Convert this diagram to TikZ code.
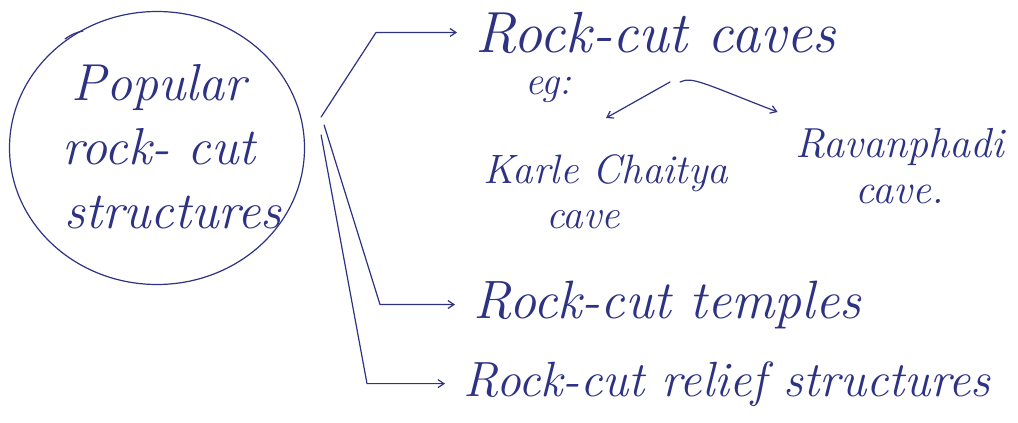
\documentclass[tikz,border=0pt]{standalone}
\usetikzlibrary{arrows.meta,shapes.geometric}
\definecolor{ink}{RGB}{45,50,130}
\begin{document}
\begin{tikzpicture}[x=1pt,y=-1pt,
  hand/.style={text=ink,inner sep=0pt},
  branch/.style={hand,inner xsep=18pt,anchor=base west},
  inkline/.style={draw=ink,line width=1.2pt,line join=round,line cap=round},
  link/.style={inkline,-{Straight Barb[length=6pt,width=8pt]}},
  rootshape/.style={ellipse,draw=ink,line width=1.2pt,
    minimum width=295pt,minimum height=273pt,inner sep=0pt}]
\useasboundingbox[fill=white] (0,0) rectangle (1018,423);

% central circle
\node[rootshape] (root) at (157,148) {};
\draw[inkline] ([shift={(-92,-109)}]root.center) to[bend left=12] ([shift={(-74,-117)}]root.center);
\node[hand,align=center,anchor=north,font=\itshape\fontsize{52}{64}\selectfont]
  (rootlabel) at (159,64)
  {Popular\\rock- cut\hspace*{64pt}\\\hspace*{28pt}structures};

% branches
\node[branch,font=\itshape\fontsize{58}{58}\selectfont] (caves) at (457,52) {Rock-cut caves};
\node[hand,anchor=base west,font=\itshape\fontsize{40}{40}\selectfont] (eg) at (525,94) {eg:};
\node[hand,align=center,anchor=north,font=\itshape\fontsize{41}{45}\selectfont]
  (karle) at (606,154) {Karle Chaitya\\cave\hspace*{46pt}};
\node[hand,align=center,anchor=north,font=\itshape\fontsize{42}{46}\selectfont]
  (ravan) at (900,128) {Ravanphadi\\cave.};
\node[branch,font=\itshape\fontsize{54}{54}\selectfont] (temples) at (455,318) {Rock-cut temples};
\node[branch,font=\itshape\fontsize{49.5}{49.5}\selectfont] (relief) at (445,396) {Rock-cut relief structures};

% connector start points beside the circle
\coordinate (s1) at ([shift={(16,-31)}]root.east);
\coordinate (s2) at ([shift={(19,-23)}]root.east);
\coordinate (s3) at ([shift={(16,-13)}]root.east);
\coordinate (eg0) at (675,82);

\draw[link] (s1) -- ([xshift=-81pt]caves.west) -- (caves.west);
\draw[link] (s2) -- ([xshift=-75pt]temples.west) -- (temples.west);
\draw[link] (s3) -- ([xshift=-78pt]relief.west) -- (relief.west);

\draw[link] ([xshift=-5pt]eg0) -- ([yshift=36pt]karle.north);
\draw[link] ([xshift=5pt]eg0) .. controls (692,76) and (705,84) ..
  ([shift={(-18,-16)}]ravan.north west);
\end{tikzpicture}
\end{document}
